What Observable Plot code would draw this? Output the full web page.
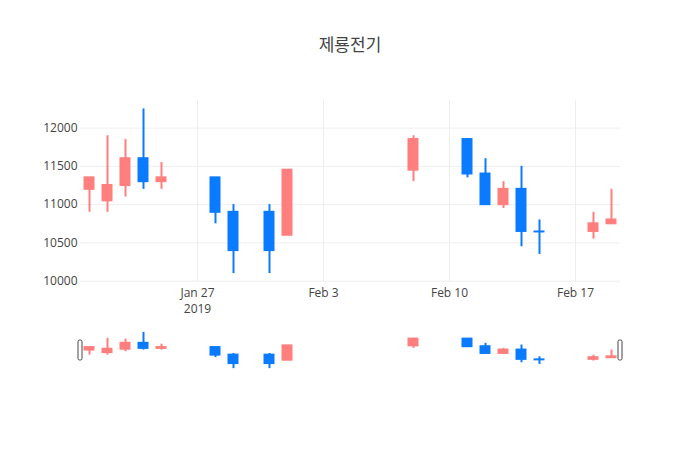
<!DOCTYPE html>
<html><head><meta charset="utf-8">
<script src="https://cdn.jsdelivr.net/npm/d3@7"></script>
<script src="https://cdn.jsdelivr.net/npm/@observablehq/plot@0.6"></script>
<style>
body{margin:0;background:#fff;}
#wrap{position:relative;width:700px;height:450px;font-family:"Open Sans","Noto Sans CJK KR",sans-serif;}
#title{position:absolute;left:0;width:700px;top:34px;text-align:center;font-size:17px;line-height:22px;color:#444;font-family:"Open Sans","Noto Sans CJK KR",sans-serif;}
#main{position:absolute;left:0;top:0;}
#slider{position:absolute;left:0;top:320px;}
</style></head><body>
<div id="wrap"><div id="title">제룡전기</div><div id="main"></div><div id="slider"></div></div>
<script>
const dates = ["2019-01-21","2019-01-22","2019-01-23","2019-01-24","2019-01-25","2019-01-28","2019-01-29","2019-01-31","2019-02-01","2019-02-08","2019-02-11","2019-02-12","2019-02-13","2019-02-14","2019-02-15","2019-02-18","2019-02-19"];
const open  = [11200,11050,11250,11600,11300,11350,10900,10900,10600,11450,11850,11400,11000,11200,10650,10650,10750];
const high  = [11350,11900,11850,12250,11550,11350,11000,11000,11450,11900,11850,11600,11300,11500,10800,10900,11200];
const low   = [10900,10900,11100,11200,11200,10750,10100,10100,10600,11300,11350,11000,10950,10450,10350,10550,10750];
const close = [11350,11250,11600,11300,11350,10900,10400,10400,11450,11850,11400,11000,11200,10650,10650,10750,10800];
const yTicks = [10000,10500,11000,11500,12000];
const xTicks = ["2019-01-27","2019-02-03","2019-02-10","2019-02-17"];
const xTickLabels = ["Jan 27\n2019","Feb 3","Feb 10","Feb 17"];
const xDomain = ["2019-01-20T12:00Z","2019-02-19T12:00Z"];
const yDomain = [9990, 12360];
const incColor = "#ff7f7f";
const decColor = "#0a7bff";

const DAY = 864e5;
const data = dates.map((d,i)=>({date:new Date(d), open:open[i], high:high[i], low:low[i], close:close[i], color: close[i] > open[i] ? incColor : decColor}));
const flat = data.filter(d=>d.open === d.close);
const bodies = data.filter(d=>d.open !== d.close);
const xTickDates = xTicks.map(d=>new Date(d));
const labelMap = new Map(xTickDates.map((d,i)=>[+d, xTickLabels[i]]));
const xDom = xDomain.map(d=>new Date(d));
const font = '"Open Sans","Noto Sans CJK KR",sans-serif';

function candles(){
  return [
    Plot.ruleX(data, {x:"date", y1:"low", y2:"high", stroke:"color", strokeWidth:2}),
    Plot.rect(bodies, {x1:d=>new Date(+d.date-0.25*DAY), x2:d=>new Date(+d.date+0.25*DAY), y1:"open", y2:"close", fill:"color", stroke:"color", strokeWidth:2}),
    Plot.ruleY(flat, {y:"open", x1:d=>new Date(+d.date-0.305*DAY), x2:d=>new Date(+d.date+0.305*DAY), stroke:"color", strokeWidth:2})
  ];
}

const main = Plot.plot({
  width:700, height:320, marginTop:100, marginBottom:38.5, marginLeft:80, marginRight:80,
  style:{fontFamily:font, fontSize:"12px", color:"#444", background:"transparent"},
  x:{type:"utc", domain:xDom},
  y:{domain:yDomain},
  color:{type:"identity"},
  marks:[
    Plot.gridY(yTicks, {stroke:"#eeeeee", strokeOpacity:1}),
    Plot.gridX(xTickDates, {stroke:"#eeeeee", strokeOpacity:1}),
    Plot.axisY(yTicks, {tickSize:0, tickPadding:3, label:null, tickFormat:d=>String(d), fill:"#444"}),
    Plot.axisX(xTickDates, {tickSize:0, tickPadding:3, label:null, tickFormat:d=>labelMap.get(+d), fill:"#444", lineHeight:1.35}),
    ...candles()
  ]
});
document.getElementById("main").appendChild(main);

const slider = Plot.plot({
  width:700, height:80, marginTop:10, marginBottom:30, marginLeft:80, marginRight:80,
  style:{fontFamily:font, background:"transparent"},
  x:{type:"utc", domain:xDom, axis:null},
  y:{domain:yDomain, axis:null},
  marks:[
    ...candles(),
    Plot.rect(xDom, {x1:d=>d, x2:d=>d, insetTop:10, insetBottom:10, insetLeft:-2, insetRight:-2, fill:"white", stroke:"#444", strokeWidth:1, rx:1.5})
  ]
});
document.getElementById("slider").appendChild(slider);
</script>
</body></html>
